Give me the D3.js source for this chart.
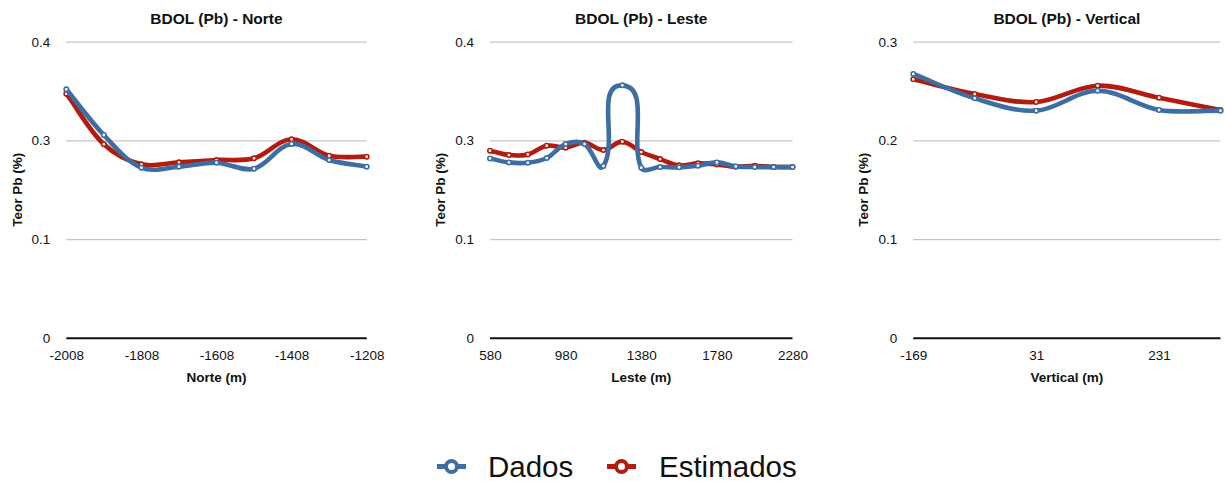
<!DOCTYPE html>
<html>
<head>
<meta charset="utf-8">
<script src="https://cdn.jsdelivr.net/npm/d3@7"></script>
<style>
  html, body { margin: 0; padding: 0; background: #fff; }
  svg { display: block; }
  text { font-family: "Liberation Sans", Arial, Helvetica, sans-serif; fill: #111; }
</style>
</head>
<body>
<svg id="chart" width="1225" height="483"></svg>
<script>
// ---- Data ----------------------------------------------------------------
const norteX = [-2008, -1908, -1808, -1708, -1608, -1508, -1408, -1308, -1208];
const norteDados =     [0.3357, 0.2739, 0.2297, 0.2311, 0.2365, 0.2284, 0.2618, 0.2401, 0.2311];
const norteEstimados = [0.3297, 0.2614, 0.2343, 0.2370, 0.2401, 0.2424, 0.2681, 0.2459, 0.2446];

const lesteX = [580, 680, 780, 880, 980, 1080, 1180, 1280, 1380, 1480, 1580, 1680, 1780, 1880, 1980, 2080, 2280];
const lesteDados =     [0.2423, 0.2369, 0.2365, 0.2428, 0.2617, 0.2617, 0.2320, 0.3410, 0.2297, 0.2306,
                        0.2302, 0.2324, 0.2369, 0.2315, 0.2306, 0.2306, 0.2306];
const lesteEstimados = [0.2527, 0.2468, 0.2477, 0.2595, 0.2568, 0.2635, 0.2536, 0.2649, 0.2509, 0.2414,
                        0.2329, 0.2356, 0.2342, 0.2311, 0.2324, 0.2306, 0.2306];

const verticalX = [-169, -69, 31, 131, 231, 331];
const verticalDados =     [0.2673, 0.2426, 0.2301, 0.2503, 0.2308, 0.2301];
const verticalEstimados = [0.2619, 0.2470, 0.2389, 0.2554, 0.2432, 0.2308];

// y ticks: axis split in three equal steps, labels shown with one decimal
const yTicks04 = [0, 0.1333, 0.2667, 0.4];
const yTickLabels04 = ["0", "0.1", "0.3", "0.4"];
const yTicks03 = [0, 0.1, 0.2, 0.3];
const yTickLabels03 = ["0", "0.1", "0.2", "0.3"];

// x tick labels (every n-th category)
const norteXLabels = [-2008, -1808, -1608, -1408, -1208];
const lesteXLabels = [580, 980, 1380, 1780, 2280];
const verticalXLabels = [-169, 31, 231];

const seriesNames = ["Dados", "Estimados"];
const seriesColors = ["#3d6ea3", "#b21b0d"];

// ---- Smooth curve --------------------------------------------------------
// Bezier through every point; the tangent at a point follows the chord of its
// neighbours and each handle is a third of the segment it belongs to.
function curveSmooth(context) {
  let pts = [];
  return {
    areaStart() {}, areaEnd() {},
    lineStart() { pts = []; },
    point(x, y) { pts.push([+x, +y]); },
    lineEnd() {
      const n = pts.length;
      if (!n) return;
      context.moveTo(pts[0][0], pts[0][1]);
      if (n === 1) return;
      const tan = pts.map((p, i) => {
        const a = pts[Math.max(0, i - 1)], b = pts[Math.min(n - 1, i + 1)];
        const dx = b[0] - a[0], dy = b[1] - a[1];
        const len = Math.hypot(dx, dy) || 1;
        return [dx / len, dy / len];
      });
      const k = 1 / 3;
      for (let i = 0; i < n - 1; i++) {
        const p = pts[i], q = pts[i + 1];
        const d = Math.hypot(q[0] - p[0], q[1] - p[1]) * k;
        context.bezierCurveTo(
          p[0] + tan[i][0] * d, p[1] + tan[i][1] * d,
          q[0] - tan[i + 1][0] * d, q[1] - tan[i + 1][1] * d,
          q[0], q[1]);
      }
    }
  };
}

// ---- Layout --------------------------------------------------------------
const panels = [
  { title: "BDOL (Pb) - Norte", xTitle: "Norte (m)", cats: norteX, xLabels: norteXLabels,
    series: [norteDados, norteEstimados], yMax: 0.4, yTicks: yTicks04, yLabels: yTickLabels04,
    left: 66.3, right: 366.7, yTitleX: 17 },
  { title: "BDOL (Pb) - Leste", xTitle: "Leste (m)", cats: lesteX, xLabels: lesteXLabels,
    series: [lesteDados, lesteEstimados], yMax: 0.4, yTicks: yTicks04, yLabels: yTickLabels04,
    left: 490, right: 792.5, yTitleX: 440 },
  { title: "BDOL (Pb) - Vertical", xTitle: "Vertical (m)", cats: verticalX, xLabels: verticalXLabels,
    series: [verticalDados, verticalEstimados], yMax: 0.3, yTicks: yTicks03, yLabels: yTickLabels03,
    left: 913.3, right: 1220.5, yTitleX: 863 }
];
const plotTop = 41.7, plotBottom = 337.7;

const svg = d3.select("#chart");

panels.forEach(p => {
  const g = svg.append("g");
  const x = d3.scalePoint().domain(p.cats).range([p.left, p.right]);
  const y = d3.scaleLinear().domain([0, p.yMax]).range([plotBottom, plotTop]);

  // gridlines and y labels
  const yAxis = d3.axisLeft(y).tickValues(p.yTicks)
    .tickSize(-(p.right - p.left))
    .tickPadding(16)
    .tickFormat((d, i) => p.yLabels[i]);
  const ya = g.append("g").attr("transform", `translate(${p.left},0)`).call(yAxis);
  ya.select(".domain").remove();
  ya.selectAll(".tick line").attr("stroke", "#c4c4c4").attr("stroke-width", 1.2);
  ya.selectAll(".tick text").style("font-size", "13.5px").attr("fill", "#111");
  ya.selectAll(".tick").filter(d => d === 0).select("line")
    .attr("stroke", "#111").attr("stroke-width", 2);

  // x axis labels
  const xAxis = d3.axisBottom(x).tickValues(p.xLabels).tickSize(0).tickPadding(13);
  const xa = g.append("g").attr("transform", `translate(0,${plotBottom})`).call(xAxis);
  xa.select(".domain").remove();
  xa.selectAll(".tick text").style("font-size", "13.5px").attr("fill", "#111");

  // titles
  g.append("text").attr("x", (p.left + p.right) / 2).attr("y", 23.5)
    .attr("text-anchor", "middle").style("font-size", "15.5px").style("font-weight", "bold")
    .text(p.title);
  g.append("text").attr("x", (p.left + p.right) / 2).attr("y", 381.5)
    .attr("text-anchor", "middle").style("font-size", "13.5px").style("font-weight", "bold")
    .text(p.xTitle);
  g.append("text")
    .attr("transform", `translate(${p.yTitleX + 5},${(plotTop + plotBottom) / 2}) rotate(-90)`)
    .attr("text-anchor", "middle").style("font-size", "13.5px").style("font-weight", "bold")
    .text("Teor Pb (%)");

  // series: Estimados first so Dados sits on top
  const line = d3.line()
    .x((d, i) => x(p.cats[i]))
    .y(d => y(d))
    .curve(curveSmooth);

  [1, 0].forEach(si => {
    const vals = p.series[si];
    g.append("path").datum(vals)
      .attr("d", line)
      .attr("fill", "none")
      .attr("stroke", seriesColors[si])
      .attr("stroke-width", 4.6)
      .attr("stroke-linejoin", "round")
      .attr("stroke-linecap", "round");
    g.selectAll(null).data(vals).enter().append("circle")
      .attr("cx", (d, i) => x(p.cats[i]))
      .attr("cy", d => y(d))
      .attr("r", 2.2)
      .attr("fill", "#fff")
      .attr("stroke", seriesColors[si])
      .attr("stroke-width", 1.6);
  });
});

// ---- Legend --------------------------------------------------------------
const legend = svg.append("g");
const legendItems = [
  { name: seriesNames[0], color: seriesColors[0], x0: 437, tx: 488 },
  { name: seriesNames[1], color: seriesColors[1], x0: 607, tx: 659 }
];
legendItems.forEach(it => {
  const cy = 466.5;
  legend.append("line").attr("x1", it.x0).attr("x2", it.x0 + 29)
    .attr("y1", cy).attr("y2", cy)
    .attr("stroke", it.color).attr("stroke-width", 5);
  legend.append("circle").attr("cx", it.x0 + 14.5).attr("cy", cy).attr("r", 5.5)
    .attr("fill", "#fff").attr("stroke", it.color).attr("stroke-width", 4);
  legend.append("text").attr("x", it.tx).attr("y", cy + 10.5)
    .style("font-size", "29.5px").text(it.name);
});
</script>
</body>
</html>
